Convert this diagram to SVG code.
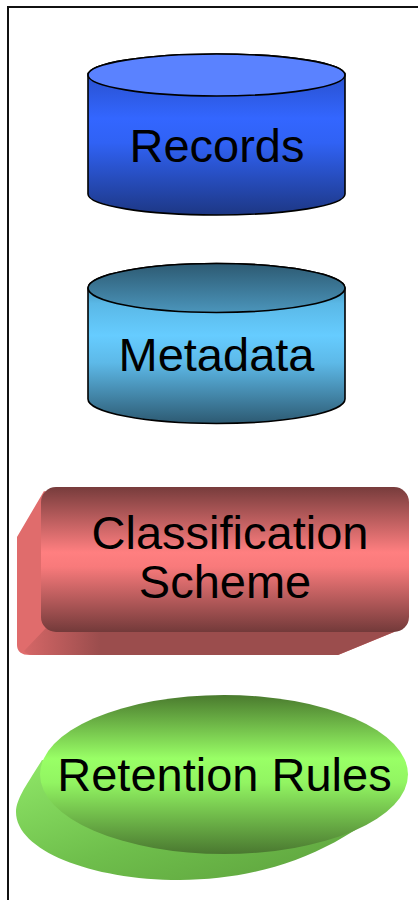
<svg xmlns="http://www.w3.org/2000/svg" width="418" height="900" viewBox="0 0 418 900">
<style>
.lbl{font-family:"Liberation Sans",Arial,sans-serif;font-size:47px;fill:#000;text-anchor:middle}
.cyl{stroke:#000;stroke-width:1.6}
</style>
<defs>
<linearGradient id="recBody" x1="0" y1="0" x2="0" y2="1">
<stop offset="0" stop-color="#2447b8"/>
<stop offset="0.4" stop-color="#3366ff"/>
<stop offset="0.55" stop-color="#3062f5"/>
<stop offset="1" stop-color="#1d3784"/>
</linearGradient>
<linearGradient id="metaBody" x1="0" y1="0" x2="0" y2="1">
<stop offset="0" stop-color="#30667f"/>
<stop offset="0.25" stop-color="#5ab8e6"/>
<stop offset="0.45" stop-color="#66ccff"/>
<stop offset="0.62" stop-color="#5db9e8"/>
<stop offset="1" stop-color="#2d5a72"/>
</linearGradient>
<linearGradient id="metaTop" x1="0" y1="0" x2="0" y2="1">
<stop offset="0" stop-color="#2d5a72"/>
<stop offset="1" stop-color="#4b95bb"/>
</linearGradient>
<linearGradient id="clsFront" x1="0" y1="0" x2="0" y2="1">
<stop offset="0" stop-color="#773c3c"/>
<stop offset="0.45" stop-color="#ff7f80"/>
<stop offset="0.55" stop-color="#f87a7b"/>
<stop offset="1" stop-color="#733a3a"/>
</linearGradient>
<linearGradient id="clsBottom" x1="20" y1="0" x2="100" y2="0" gradientUnits="userSpaceOnUse">
<stop offset="0" stop-color="#d86868"/>
<stop offset="1" stop-color="#9b4d4d"/>
</linearGradient>
<linearGradient id="retFront" x1="0" y1="0" x2="0" y2="1">
<stop offset="0" stop-color="#4a7a2e"/>
<stop offset="0.4" stop-color="#99ff66"/>
<stop offset="0.55" stop-color="#92f562"/>
<stop offset="1" stop-color="#4a7830"/>
</linearGradient>
<linearGradient id="retBack" x1="0" y1="0" x2="1" y2="1">
<stop offset="0" stop-color="#90e868"/>
<stop offset="0.5" stop-color="#6fbf4c"/>
<stop offset="1" stop-color="#5a9c3a"/>
</linearGradient>
</defs>

<path d="M8,900 V7 H418" fill="none" stroke="#111" stroke-width="2"/>

<g id="records">
<path class="cyl" fill="url(#recBody)" d="M88,75 V194 A128.5,21 0 0 0 345,194 V75 A128.5,21 0 0 0 88,75 Z"/>
<ellipse class="cyl" cx="216.5" cy="75" rx="128.5" ry="21" fill="#5a82ff"/>
<text class="lbl" x="217" y="162">Records</text>
</g>

<g id="metadata">
<path class="cyl" fill="url(#metaBody)" d="M88,288 V399 A128.5,24.5 0 0 0 345,399 V288 A128.5,24.5 0 0 0 88,288 Z"/>
<ellipse class="cyl" cx="216.5" cy="288" rx="128.5" ry="24.5" fill="url(#metaTop)"/>
<text class="lbl" x="216.5" y="371">Metadata</text>
</g>

<g id="classification">
<path fill="#e06c6c" d="M44,491 L17,537 V645 Q17,655 30,655 L338,655 L394,632 L200,560 Z"/>
<path fill="url(#clsBottom)" d="M46,628 L24,651 Q27,655 34,655 L338,655 L394,632 L200,600 Z"/>
<rect x="41" y="487" width="368" height="145" rx="15" fill="url(#clsFront)"/>
<text class="lbl" x="230" y="549">Classification</text>
<text class="lbl" x="225" y="598">Scheme</text>
</g>

<g id="retention">
<path fill="url(#retBack)" d="M42,760 C30,780 16,798 16,812 C16,850 90,880 180,880 C265,880 345,850 404,790 L224,774 Z"/>
<ellipse cx="224" cy="774.5" rx="184" ry="79.5" fill="url(#retFront)"/>
<text class="lbl" x="224.5" y="791">Retention Rules</text>
</g>

<g id="connectors"></g>
</svg>
